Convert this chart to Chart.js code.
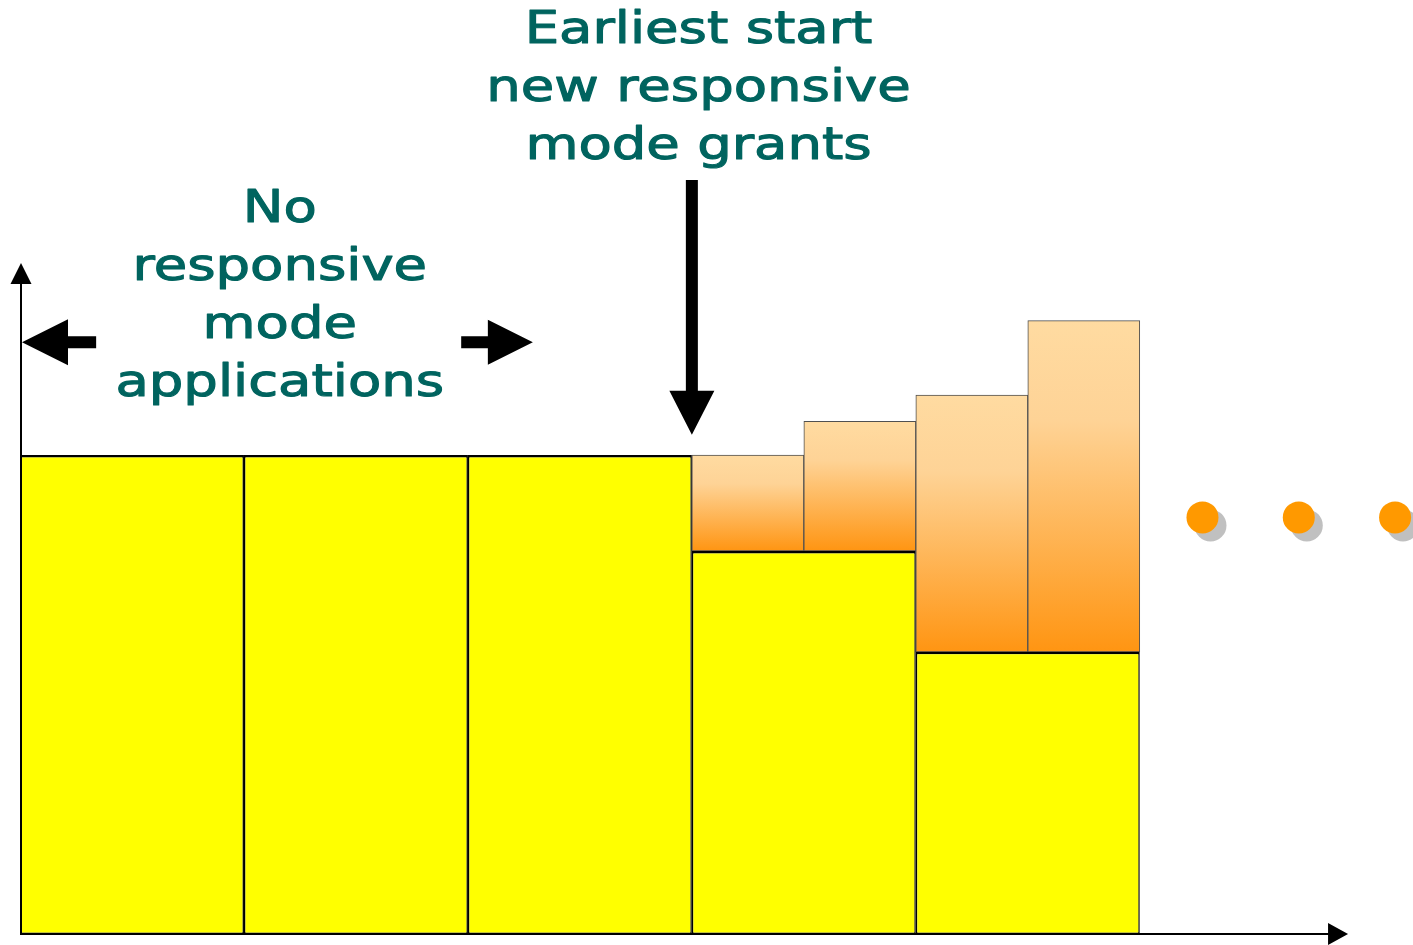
<!DOCTYPE html>
<html>
<head>
<meta charset="utf-8">
<script src="https://cdn.jsdelivr.net/npm/chart.js@4.4.1/dist/chart.umd.min.js"></script>
<style>
  html, body { margin: 0; padding: 0; background: #ffffff; overflow: hidden; }
  canvas { display: block; }
</style>
</head>
<body>
<canvas id="grantsChart" width="1413" height="945"></canvas>
<script>
// x in periods (one yellow block = one period), y in funding units (100 = flat level)
const periodX = [0.5, 1.5, 2.5, 3.5, 4.5];
const baseFunding = [100, 100, 100, 80, 59];

const responsiveX = [3.25, 3.75, 4.25, 4.75];
const responsiveFrom = [80, 80, 59, 59];
const responsiveTo = [100, 107, 112.5, 128];

const moreX = [5.28, 5.71, 6.14];
const moreY = [87, 87, 87];

const grantsLines = ['Earliest start', 'new responsive', 'mode grants'];
const noAppsLines = ['No', 'responsive', 'mode', 'applications'];

// annotation anchors, in axis units
const grantsAt = { x: 3.03, y: 185.8 };
const noAppsAt = { x: 1.16, y: 148.6 };
const noAppsArrowY = 123.5;
const noAppsArrowLeft = [0.34, 0.0];
const noAppsArrowRight = [1.97, 2.29];
const startArrow = { x: 3.0, from: 157.3, to: 104.2 };
const axisTopY = 140;
const axisEndX = 5.93;

const textColor = '#00645f';

function blockArrow(ctx, x1, y1, x2, y2, shaft, headLen, headHalf) {
    const a = Math.atan2(y2 - y1, x2 - x1);
    const len = Math.hypot(x2 - x1, y2 - y1);
    ctx.save();
    ctx.translate(x1, y1);
    ctx.rotate(a);
    ctx.beginPath();
    ctx.moveTo(0, -shaft);
    ctx.lineTo(len - headLen, -shaft);
    ctx.lineTo(len - headLen, -headHalf);
    ctx.lineTo(len, 0);
    ctx.lineTo(len - headLen, headHalf);
    ctx.lineTo(len - headLen, shaft);
    ctx.lineTo(0, shaft);
    ctx.closePath();
    ctx.fill();
    ctx.restore();
}

function textBlock(ctx, lines, cx, baseline) {
    ctx.save();
    ctx.fillStyle = textColor;
    ctx.strokeStyle = textColor;
    ctx.lineWidth = 1.1;
    ctx.lineJoin = 'round';
    ctx.font = '45px "DejaVu Sans"';
    ctx.textAlign = 'center';
    ctx.textBaseline = 'alphabetic';
    ctx.translate(cx, baseline);
    ctx.scale(1.21, 1);
    lines.forEach((line, i) => {
        ctx.fillText(line, 0, i * 58);
        ctx.strokeText(line, 0, i * 58);
    });
    ctx.restore();
}

const decorations = {
    id: 'decorations',
    beforeDatasetDraw(chart, args) {
        if (args.index === 2) {
            const {ctx} = chart;
            ctx.save();
            ctx.shadowColor = '#c0c0c0';
            ctx.shadowOffsetX = 8;
            ctx.shadowOffsetY = 8;
            ctx.shadowBlur = 0;
        }
    },
    afterDatasetDraw(chart, args) {
        if (args.index === 2) {
            chart.ctx.restore();
        }
    },
    afterDraw(chart) {
        const {ctx} = chart;
        const x = chart.scales.x;
        const y = chart.scales.y;
        const x0 = x.getPixelForValue(0) + 1;
        const y0 = y.getPixelForValue(0) - 1;

        ctx.save();
        ctx.fillStyle = '#000';
        // axes
        blockArrow(ctx, x0, y0, x0, y.getPixelForValue(axisTopY), 1, 21, 10.5);
        blockArrow(ctx, x0, y0, x.getPixelForValue(axisEndX), y0, 1, 20, 11);

        // "no applications" span arrows
        const ay = y.getPixelForValue(noAppsArrowY);
        blockArrow(ctx, x.getPixelForValue(noAppsArrowLeft[0]), ay, x.getPixelForValue(noAppsArrowLeft[1]) + 2, ay, 6, 46, 23);
        blockArrow(ctx, x.getPixelForValue(noAppsArrowRight[0]), ay, x.getPixelForValue(noAppsArrowRight[1]), ay, 6, 45, 22.5);

        // earliest start arrow
        const sx = x.getPixelForValue(startArrow.x);
        blockArrow(ctx, sx, y.getPixelForValue(startArrow.from), sx, y.getPixelForValue(startArrow.to), 6, 44, 22.5);
        ctx.restore();

        textBlock(ctx, grantsLines, x.getPixelForValue(grantsAt.x), y.getPixelForValue(grantsAt.y));
        textBlock(ctx, noAppsLines, x.getPixelForValue(noAppsAt.x), y.getPixelForValue(noAppsAt.y));
    }
};

function orangeFill(context) {
    const chart = context.chart;
    if (!chart.chartArea || !Array.isArray(context.raw && context.raw.y)) {
        return '#ffc880';
    }
    const y = chart.scales.y;
    const top = y.getPixelForValue(context.raw.y[1]);
    const bottom = y.getPixelForValue(context.raw.y[0]);
    const g = chart.ctx.createLinearGradient(0, top, 0, bottom);
    g.addColorStop(0, '#ffdba1');
    g.addColorStop(0.3, '#fed396');
    g.addColorStop(1, '#ff9512');
    return g;
}

new Chart(document.getElementById('grantsChart'), {
    type: 'bar',
    data: {
        datasets: [
            {
                label: 'Current funding',
                data: periodX.map((px, i) => ({ x: px, y: baseFunding[i] })),
                xAxisID: 'x',
                yAxisID: 'y',
                backgroundColor: '#ffff00',
                borderColor: '#000000',
                borderWidth: { top: 2.5, bottom: 2.5, left: 1.5, right: 1.5 },
                borderSkipped: false,
                inflateAmount: 0,
                grouped: false,
                barPercentage: 1,
                categoryPercentage: 1
            },
            {
                label: 'Responsive mode',
                data: responsiveX.map((px, i) => ({ x: px, y: [responsiveFrom[i], responsiveTo[i]] })),
                xAxisID: 'x2',
                yAxisID: 'y',
                backgroundColor: orangeFill,
                borderColor: '#505050',
                borderWidth: 1,
                borderSkipped: false,
                grouped: false,
                barPercentage: 1,
                categoryPercentage: 1
            },
            {
                type: 'scatter',
                label: 'More',
                data: moreX.map((px, i) => ({ x: px, y: moreY[i] })),
                xAxisID: 'x',
                yAxisID: 'y',
                pointRadius: 16,
                pointHoverRadius: 16,
                pointBackgroundColor: '#ff9900',
                pointBorderWidth: 0,
                clip: false
            }
        ]
    },
    options: {
        responsive: false,
        animation: false,
        events: [],
        layout: { autoPadding: false, padding: { left: 20, right: 0, top: 23, bottom: 10 } },
        plugins: {
            legend: { display: false },
            tooltip: { enabled: false },
            title: { display: false }
        },
        scales: {
            x: {
                type: 'linear',
                display: false,
                offset: false,
                min: 0,
                max: 6.22,
                ticks: { stepSize: 1, includeBounds: false }
            },
            x2: {
                type: 'linear',
                display: false,
                offset: false,
                min: 0,
                max: 6.22,
                ticks: { stepSize: 1, includeBounds: false }
            },
            y: {
                type: 'linear',
                display: false,
                min: 0,
                max: 190
            }
        }
    },
    plugins: [decorations]
});
</script>
</body>
</html>
